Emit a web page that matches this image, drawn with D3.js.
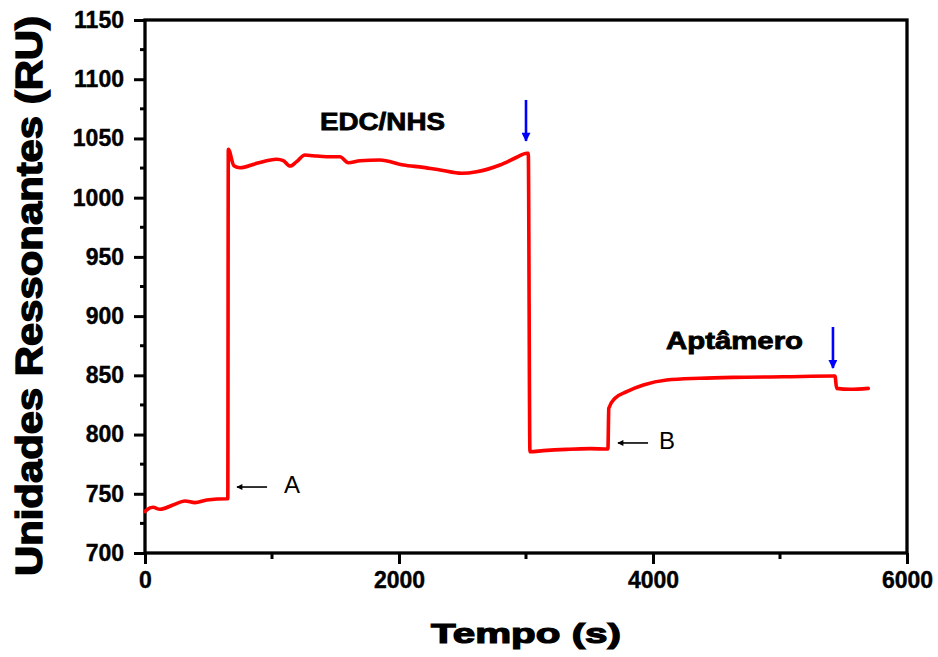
<!DOCTYPE html>
<html>
<head>
<meta charset="utf-8">
<script src="https://cdn.jsdelivr.net/npm/d3@7"></script>
<style>
  body { margin: 0; background: #fff; }
  svg text { font-family: "Liberation Sans", Arial, sans-serif; }
</style>
</head>
<body>
<svg id="chart" width="938" height="657"></svg>
<script>
// sensorgram: time (s) and response (RU)
const tempo = [
  0, 13, 63, 118, 220, 315, 394, 486, 648, 652,
  656, 700, 748, 880, 1037, 1089, 1142, 1194, 1260, 1325,
  1431, 1535, 1601, 1693, 1850, 2034, 2191, 2323, 2494, 2612,
  2795, 2927, 3006, 3018, 3031, 3136, 3320, 3504, 3645, 3652,
  3701, 3793, 3924, 4108, 4370, 4632, 5026, 5420, 5433, 5446,
  5551, 5695
];
const resposta = [
  735, 736.3, 738.6, 736.9, 740.5, 743.9, 742.5, 744.7, 745.8, 745.8,
  1040.8, 1027, 1025.2, 1029, 1032.4, 1031.2, 1026.7, 1030.4, 1036, 1035.4,
  1034.6, 1034.6, 1029.5, 1031.2, 1031.8, 1027.6, 1025.6, 1023.4, 1020.6, 1021.9,
  1027.6, 1034.1, 1037.5, 1037.5, 785.5, 786.4, 787.5, 788.1, 787.8, 822.2,
  830.6, 836.2, 841.8, 846, 847.5, 848.3, 848.8, 849.4, 849.4, 839,
  838.2, 839
];
const xTicks = [0, 2000, 4000, 6000];
const xMinor = [1000, 3000, 5000];
const yTicks = [700, 750, 800, 850, 900, 950, 1000, 1050, 1100, 1150];
const yMinor = [725, 775, 825, 875, 925, 975, 1025, 1075, 1125];

const dados = tempo.map((t, i) => ({ t, v: resposta[i] }));

const svg = d3.select("#chart");
const margem = { left: 145, right: 907, top: 20, bottom: 553 };

const x = d3.scaleLinear().domain([0, 6000]).range([margem.left, margem.right]);
const y = d3.scaleLinear().domain([700, 1150]).range([margem.bottom, margem.top]);

// frame
svg.append("rect")
  .attr("x", margem.left).attr("y", margem.top)
  .attr("width", margem.right - margem.left).attr("height", margem.bottom - margem.top)
  .attr("fill", "none").attr("stroke", "#000").attr("stroke-width", 3.3);

// x axis
const xAxis = d3.axisBottom(x).tickValues(xTicks).tickSize(11).tickPadding(8)
  .tickFormat(d3.format("d"));
const gx = svg.append("g").attr("transform", `translate(0,${margem.bottom})`).call(xAxis);
gx.select(".domain").remove();
gx.selectAll(".tick line").attr("stroke", "#000").attr("stroke-width", 3);
gx.selectAll(".tick text")
  .attr("font-size", 23).attr("font-weight", "bold").attr("fill", "#000")
  .attr("stroke", "#000").attr("stroke-width", 0.4)
  .attr("font-family", "'Liberation Sans', Arial, sans-serif");
svg.append("g").selectAll("line").data(xMinor).join("line")
  .attr("x1", d => x(d)).attr("x2", d => x(d))
  .attr("y1", margem.bottom).attr("y2", margem.bottom + 6)
  .attr("stroke", "#000").attr("stroke-width", 3);

// y axis
const yAxis = d3.axisLeft(y).tickValues(yTicks).tickSize(11).tickPadding(10)
  .tickFormat(d3.format("d"));
const gy = svg.append("g").attr("transform", `translate(${margem.left},0)`).call(yAxis);
gy.select(".domain").remove();
gy.selectAll(".tick line").attr("stroke", "#000").attr("stroke-width", 3);
gy.selectAll(".tick text")
  .attr("font-size", 23).attr("font-weight", "bold").attr("fill", "#000")
  .attr("stroke", "#000").attr("stroke-width", 0.4)
  .attr("font-family", "'Liberation Sans', Arial, sans-serif");
svg.append("g").selectAll("line").data(yMinor).join("line")
  .attr("x1", margem.left - 5).attr("x2", margem.left)
  .attr("y1", d => y(d)).attr("y2", d => y(d))
  .attr("stroke", "#000").attr("stroke-width", 3);

// axis titles
svg.append("text")
  .attr("x", 526).attr("y", 643)
  .attr("text-anchor", "middle")
  .attr("font-size", 28).attr("font-weight", "bold")
  .attr("stroke", "#000").attr("stroke-width", 1.2)
  .attr("textLength", 190).attr("lengthAdjust", "spacingAndGlyphs")
  .text("Tempo (s)");

svg.append("text")
  .attr("transform", "translate(42,296) rotate(-90)")
  .attr("text-anchor", "middle")
  .attr("font-size", 37).attr("font-weight", "bold")
  .attr("stroke", "#000").attr("stroke-width", 1.4)
  .attr("textLength", 560).attr("lengthAdjust", "spacingAndGlyphs")
  .text("Unidades Ressonantes (RU)");

// the curve
const linha = d3.line().x(d => x(d.t)).y(d => y(d.v)).curve(d3.curveMonotoneX);
svg.append("path")
  .datum(dados)
  .attr("d", linha)
  .attr("fill", "none")
  .attr("stroke", "#ff0000")
  .attr("stroke-width", 3.6)
  .attr("stroke-linejoin", "round")
  .attr("stroke-linecap", "round");

// arrow heads
const defs = svg.append("defs");
defs.append("marker")
  .attr("id", "pretaSeta").attr("viewBox", "0 0 10 10")
  .attr("refX", 9).attr("refY", 5)
  .attr("markerWidth", 8).attr("markerHeight", 6)
  .attr("markerUnits", "userSpaceOnUse")
  .attr("orient", "auto")
  .append("path").attr("d", "M0,0 L10,5 L0,10 z").attr("fill", "#000");
defs.append("marker")
  .attr("id", "azulSeta").attr("viewBox", "0 0 10 10")
  .attr("refX", 9).attr("refY", 5)
  .attr("markerWidth", 12).attr("markerHeight", 9)
  .attr("markerUnits", "userSpaceOnUse")
  .attr("orient", "auto")
  .append("path").attr("d", "M0,0 L10,5 L0,10 z").attr("fill", "#0000ff");

// black arrows A and B (time, RU)
const setasPretas = [
  { from: [961, 755.7], to: [724, 755.7], label: "A", at: [1094, 750.6] },
  { from: [3961, 792.9], to: [3724, 792.9], label: "B", at: [4047, 787.8] }
];
setasPretas.forEach(s => {
  svg.append("line")
    .attr("x1", x(s.from[0])).attr("y1", y(s.from[1]))
    .attr("x2", x(s.to[0])).attr("y2", y(s.to[1]))
    .attr("stroke", "#000").attr("stroke-width", 1.6)
    .attr("marker-end", "url(#pretaSeta)");
  svg.append("text")
    .attr("x", x(s.at[0])).attr("y", y(s.at[1]))
    .attr("font-size", 24).attr("fill", "#000")
    .text(s.label);
});

// blue injection arrows
const setasAzuis = [
  { t: 3000, v0: 1082.5, v1: 1047.9 },
  { t: 5417, v0: 890.8, v1: 856.2 }
];
svg.append("g").selectAll("line").data(setasAzuis).join("line")
  .attr("x1", d => x(d.t)).attr("x2", d => x(d.t))
  .attr("y1", d => y(d.v0)).attr("y2", d => y(d.v1))
  .attr("stroke", "#0000ff").attr("stroke-width", 2.6)
  .attr("marker-end", "url(#azulSeta)");

// bold labels
const rotulos = [
  { text: "EDC/NHS", t: 1870, v: 1057.1, len: 125, size: 24 },
  { text: "Aptâmero", t: 4642, v: 872.2, len: 137, size: 23 }
];
svg.append("g").selectAll("text").data(rotulos).join("text")
  .attr("x", d => x(d.t)).attr("y", d => y(d.v))
  .attr("text-anchor", "middle")
  .attr("font-size", d => d.size).attr("font-weight", "bold")
  .attr("stroke", "#000").attr("stroke-width", 0.8)
  .attr("textLength", d => d.len).attr("lengthAdjust", "spacingAndGlyphs")
  .text(d => d.text);
</script>
</body>
</html>
